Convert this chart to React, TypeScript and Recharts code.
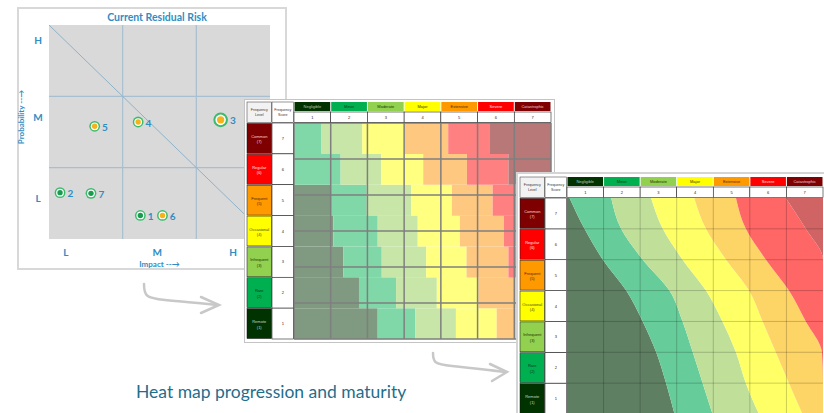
import React from 'react';
import {
  ScatterChart,
  Scatter,
  XAxis,
  YAxis,
  CartesianGrid,
  ReferenceLine,
  BarChart,
  Bar,
  AreaChart,
  Area,
} from 'recharts';

// left panel: current residual risk
const riskIds = ['1', '2', '3', '4', '5', '6', '7'];
const riskImpact = [1.24, 0.15, 2.33, 1.21, 0.62, 1.54, 0.57];
const riskProbability = [0.33, 0.65, 1.67, 1.64, 1.58, 0.33, 0.64];
const riskExposure = [1, 1, 2, 1, 1, 1, 1];
const riskState = ['closed', 'closed', 'open', 'open', 'open', 'open', 'closed'];
const matrixTicksX = [0.23, 1.47, 2.5];
const matrixTicksY = [0.57, 1.7, 2.78];
const matrixTickLabels = ['L', 'M', 'H'];

// heat map axes
const consequences = ['Negligible', 'Minor', 'Moderate', 'Major', 'Extensive', 'Severe', 'Catastrophic'];
const consequenceScores = [1, 2, 3, 4, 5, 6, 7];
const freqLevels = ['Common', 'Regular', 'Frequent', 'Occasional', 'Infrequent', 'Rare', 'Remote'];
const freqScores = [7, 6, 5, 4, 3, 2, 1];

// middle heat map: band widths per frequency row (Common -> Remote)
const stepNegligible = [0, 0, 1.0, 1.07, 1.34, 1.77, 2.28];
const stepMinor = [0.75, 1.27, 0.98, 1.21, 1.05, 1.01, 1.02];
const stepModerate = [1.11, 1.1, 1.21, 1.09, 1.21, 1.11, 1.11];
const stepMajor = [1.14, 1.15, 1.11, 1.15, 1.1, 1.13, 1.11];
const stepExtensive = [1.2, 1.19, 1.11, 1.2, 1.14, 1.3, 1.48];
const stepSevere = [1.12, 1.13, 1.2, 1.28, 1.16, 0.68, 0];
const stepCatastrophic = [1.68, 1.16, 0.39, 0, 0, 0, 0];

// right heat map: band widths at row edges, frequency 7 (top) -> 0 (bottom)
const smoothY = [7, 6, 5, 4, 3, 2, 1, 0];
const smoothNegligible = [0.07, 0.48, 0.98, 1.62, 2.07, 2.44, 2.71, 2.94];
const smoothMinor = [1.14, 1.0, 1.09, 1.18, 1.09, 1.0, 1.0, 1.04];
const smoothModerate = [1.09, 1.14, 1.09, 1.0, 1.09, 1.18, 1.18, 1.27];
const smoothMajor = [1.18, 1.18, 1.19, 1.18, 1.1, 1.09, 1.18, 1.19];
const smoothExtensive = [1.14, 1.09, 1.09, 1.09, 1.18, 1.26, 0.93, 0.56];
const smoothSevere = [1.36, 1.64, 1.56, 0.93, 0.47, 0.03, 0, 0];
const smoothCatastrophic = [1.02, 0.47, 0, 0, 0, 0, 0, 0];

const bandKeys = ['b1', 'b2', 'b3', 'b4', 'b5', 'b6', 'b7'];
const stepFill = ['#7f9a80', '#80d8a8', '#c8e6a8', '#ffff80', '#ffc880', '#ff8080', '#b87878'];
const smoothFill = ['#5f7f63', '#66cc99', '#c0e09a', '#ffff66', '#fdd466', '#ff6666', '#d06464'];
const headerFill = ['#003300', '#00b050', '#92d050', '#ffff00', '#ff9900', '#ff0000', '#7f0000'];
const headerText = ['#b8c8b8', '#003a1a', '#1a3300', '#333300', '#4d2600', '#ffe0e0', '#f0d0d0'];
const levelFill = ['#7f0000', '#ff0000', '#ff9900', '#ffff00', '#92d050', '#00b050', '#003300'];
const levelText = ['#ffd0d0', '#ffe0e0', '#4d2600', '#4d4d00', '#1a3300', '#003a1a', '#c8d8c8'];

const riskData = riskIds.map((id, i) => ({
  id,
  impact: riskImpact[i],
  probability: riskProbability[i],
  exposure: riskExposure[i],
  state: riskState[i],
}));

const stepSeries = [stepNegligible, stepMinor, stepModerate, stepMajor, stepExtensive, stepSevere, stepCatastrophic];
const stepData = freqLevels.map((level, i) => {
  const row: any = { level };
  bandKeys.forEach((k, j) => (row[k] = stepSeries[j][i]));
  return row;
});

const smoothSeries = [smoothNegligible, smoothMinor, smoothModerate, smoothMajor, smoothExtensive, smoothSevere, smoothCatastrophic];
const smoothData = smoothY.map((y, i) => {
  const row: any = { y };
  bandKeys.forEach((k, j) => (row[k] = smoothSeries[j][i]));
  return row;
});

const BLUE = '#2e8ec4';
const TINY = '"Liberation Sans", Arial, sans-serif';
const LABEL = 'Lato, "Open Sans", sans-serif';
const centers = [0.5, 1.5, 2.5, 3.5, 4.5, 5.5, 6.5];
const edges = [1, 2, 3, 4, 5, 6];

const RiskDot = (props: any) => {
  const { cx, cy, payload } = props;
  const r = payload.exposure > 1 ? 7.3 : 5.4;
  const inner = payload.state === 'open' ? '#f5b21a' : '#1a9c50';
  return (
    <g>
      <circle cx={cx} cy={cy} r={r} fill="#3dbb6c" />
      <circle cx={cx} cy={cy} r={r * 0.72} fill="#ffffff" />
      <circle cx={cx} cy={cy} r={r * 0.5} fill={inner} />
      <text x={cx + r + 2} y={cy + 4.5} fontSize={10} fontWeight="bold" fill={BLUE} fontFamily={LABEL}>
        {payload.id}
      </text>
    </g>
  );
};

const MatrixXTick = (p: any) => (
  <text x={p.x} y={256} textAnchor="middle" fontSize={10} fontWeight="bold" fill={BLUE} fontFamily={LABEL}>
    {matrixTickLabels[matrixTicksX.indexOf(p.payload.value)]}
  </text>
);

const MatrixYTick = (p: any) => (
  <text x={38} y={p.y + 3.5} textAnchor="middle" fontSize={10} fontWeight="bold" fill={BLUE} fontFamily={LABEL}>
    {matrixTickLabels[matrixTicksY.indexOf(p.payload.value)]}
  </text>
);

const ProbTitle = (props: any) => {
  const vb = props.viewBox || { x: 0, y: 25 };
  const cx = vb.x + 21;
  const cy = vb.y + 92;
  return (
    <text x={cx} y={cy} transform={`rotate(-90 ${cx} ${cy})`} textAnchor="middle" dominantBaseline="central"
      fontSize={8} fontWeight="bold" fill={BLUE} fontFamily={LABEL}>
      Probability --→
    </text>
  );
};

const makeHeaderTick = (top: number, colW: number) => (props: any) => {
  const { x, payload } = props;
  const i = Math.floor(payload.value);
  const left = x - colW / 2 - i * colW;
  return (
    <g fontFamily={TINY}>
      {i === 0 && (
        <g>
          <rect x={left - 47} y={top} width={24.5} height={20.5} fill="#f2f2f2" stroke="#333" strokeWidth={0.5} />
          <text x={left - 34.75} y={top + 9} textAnchor="middle" fontSize={3.6} fill="#333">Frequency</text>
          <text x={left - 34.75} y={top + 14} textAnchor="middle" fontSize={3.6} fill="#333">Level</text>
          <rect x={left - 22} y={top} width={21.5} height={20.5} fill="#fff" stroke="#333" strokeWidth={0.5} />
          <text x={left - 11.25} y={top + 9} textAnchor="middle" fontSize={3.6} fill="#333">Frequency</text>
          <text x={left - 11.25} y={top + 14} textAnchor="middle" fontSize={3.6} fill="#333">Score</text>
        </g>
      )}
      <rect x={x - colW / 2 + 0.5} y={top} width={colW - 1} height={9} fill={headerFill[i]} />
      <text x={x} y={top + 6.2} textAnchor="middle" fontSize={4} fill={headerText[i]}>
        {consequences[i]}
      </text>
      <rect x={x - colW / 2} y={top + 10} width={colW} height={10.5} fill="#fff" stroke="#222" strokeWidth={0.6} />
      <text x={x} y={top + 17} textAnchor="middle" fontSize={4} fill="#222">
        {consequenceScores[i]}
      </text>
    </g>
  );
};

const makeLevelTick = (left: number, rowH: number) => (props: any) => {
  const { y, payload } = props;
  const i = typeof payload.value === 'number' ? Math.round(6.5 - payload.value) : freqLevels.indexOf(payload.value);
  return (
    <g fontFamily={TINY}>
      <rect x={left} y={y - rowH / 2 + 0.5} width={24.5} height={rowH - 1} fill={levelFill[i]} stroke="#111" strokeWidth={0.5} />
      <text x={left + 12.25} y={y - 0.5} textAnchor="middle" fontSize={4} fill={levelText[i]}>
        {freqLevels[i]}
      </text>
      <text x={left + 12.25} y={y + 5} textAnchor="middle" fontSize={4} fill={levelText[i]}>
        ({freqScores[i]})
      </text>
      <rect x={left + 25} y={y - rowH / 2} width={21.5} height={rowH} fill="#fff" stroke="#222" strokeWidth={0.6} />
      <text x={left + 35.75} y={y + 1.5} textAnchor="middle" fontSize={4} fill="#222">
        {freqScores[i]}
      </text>
    </g>
  );
};

const RiskMatrix = () => (
  <ScatterChart width={300} height={275} margin={{ top: 25, right: 30, bottom: 6, left: 0 }}>
    <CartesianGrid fill="#d9d9d9" stroke="none" horizontal={false} vertical={false} />
    <XAxis type="number" dataKey="impact" domain={[0, 3]} ticks={matrixTicksX} height={30}
      axisLine={false} tickLine={false} tick={MatrixXTick}
      label={{ value: 'Impact --→', position: 'insideBottom', offset: 2, fill: BLUE, fontSize: 8, fontWeight: 'bold', fontFamily: LABEL }} />
    <YAxis type="number" dataKey="probability" domain={[0, 3]} ticks={matrixTicksY} width={49}
      axisLine={false} tickLine={false} tick={MatrixYTick} label={{ content: ProbTitle }} />
    {[1, 2].map((v) => (
      <ReferenceLine key={'x' + v} x={v} stroke="#a7bfd0" strokeWidth={1.2} />
    ))}
    {[1, 2].map((v) => (
      <ReferenceLine key={'y' + v} y={v} stroke="#a7bfd0" strokeWidth={1.2} />
    ))}
    <ReferenceLine segment={[{ x: 0, y: 3 }, { x: 3, y: 0 }]} stroke="#8fb2c8" strokeWidth={1} />
    <Scatter data={riskData} shape={RiskDot} isAnimationActive={false} />
  </ScatterChart>
);

const StepHeatMap = () => (
  <BarChart width={308} height={241} layout="vertical" data={stepData} barCategoryGap={0}
    margin={{ top: 2, right: 2, bottom: 2, left: 2 }}>
    <XAxis type="number" domain={[0, 7]} orientation="top" ticks={centers} height={21}
      axisLine={false} tickLine={false} tick={makeHeaderTick(2, 257 / 7)} />
    <YAxis type="category" dataKey="level" width={47} axisLine={false} tickLine={false}
      tick={makeLevelTick(2, 216 / 7)} />
    <YAxis yAxisId="grid" type="number" domain={[0, 7]} hide />
    {bandKeys.map((k, j) => (
      <Bar key={k} dataKey={k} stackId="a" fill={stepFill[j]} isAnimationActive={false} />
    ))}
    {[0, ...edges, 7].map((v) => (
      <ReferenceLine key={'x' + v} x={v} stroke="#7f7f7f" strokeWidth={1.5} />
    ))}
    {[0, ...edges, 7].map((v) => (
      <ReferenceLine key={'y' + v} y={v} yAxisId="grid" stroke="#7f7f7f" strokeWidth={1.5} />
    ))}
  </BarChart>
);

const SmoothHeatMap = () => (
  <AreaChart width={311} height={246} layout="vertical" data={smoothData}
    margin={{ top: 5, right: 4, bottom: 4, left: 4 }}>
    <XAxis type="number" domain={[0, 7]} orientation="top" ticks={centers} height={21}
      axisLine={false} tickLine={false} tick={makeHeaderTick(5, 256 / 7)} />
    <YAxis type="number" dataKey="y" domain={[0, 7]} ticks={centers} width={47} reversed
      axisLine={false} tickLine={false} tick={makeLevelTick(4, 216 / 7)} />
    {bandKeys.map((k, j) => (
      <Area key={k} type="monotone" dataKey={k} stackId="s" stroke="none" fill={smoothFill[j]}
        fillOpacity={1} dot={false} activeDot={false} isAnimationActive={false} />
    ))}
    {edges.map((v) => (
      <ReferenceLine key={'x' + v} x={v} stroke="rgba(0,0,0,0.2)" strokeWidth={1} />
    ))}
    {edges.map((v) => (
      <ReferenceLine key={'y' + v} y={v} stroke="rgba(0,0,0,0.2)" strokeWidth={1} />
    ))}
  </AreaChart>
);

const abs = (left: number, top: number, extra: any = {}) => ({ position: 'absolute' as const, left, top, ...extra });

export default function App() {
  return (
    <div style={{ position: 'fixed', left: 0, top: 0, width: 824, height: 413, overflow: 'hidden', background: '#fff' }}>
      <svg width={824} height={413} style={abs(0, 0)}>
        <g fill="none" stroke="#c8c8c8" strokeWidth={2.5} strokeLinecap="round">
          <path d="M144 284 C144 296 146 298 165 300 C185 302 200 303 218 305" />
          <path d="M201 297 L219 305 L201 313" />
          <path d="M433 353 C433 362 434 364 452 366 C472 368 488 370 506 372" />
          <path d="M490 364 L507 372 L492 381" />
        </g>
      </svg>

      <div style={abs(17, 7, { width: 270, height: 263, boxSizing: 'border-box', border: '2px solid #d8d8d8', background: '#fff' })} />
      <div style={abs(0, 0)}>
        <RiskMatrix />
      </div>
      <div style={abs(57, 11, { width: 200, textAlign: 'center', fontFamily: LABEL, fontWeight: 'bold', fontSize: 10.5, color: BLUE })}>
        Current Residual Risk
      </div>

      <div style={abs(244, 99, { width: 311, height: 244, boxSizing: 'border-box', border: '1.5px solid #c4c4c4', background: '#fff' })} />
      <div style={abs(245, 100)}>
        <StepHeatMap />
      </div>

      <div style={abs(516, 172, { width: 320, height: 260, boxSizing: 'border-box', border: '2px solid #d4d4d4', background: '#fff' })} />
      <div style={abs(516, 172)}>
        <SmoothHeatMap />
      </div>

      <div style={abs(136, 381, { fontFamily: LABEL, fontSize: 17.5, color: '#1f6e8c' })}>
        Heat map progression and maturity
      </div>
    </div>
  );
}
